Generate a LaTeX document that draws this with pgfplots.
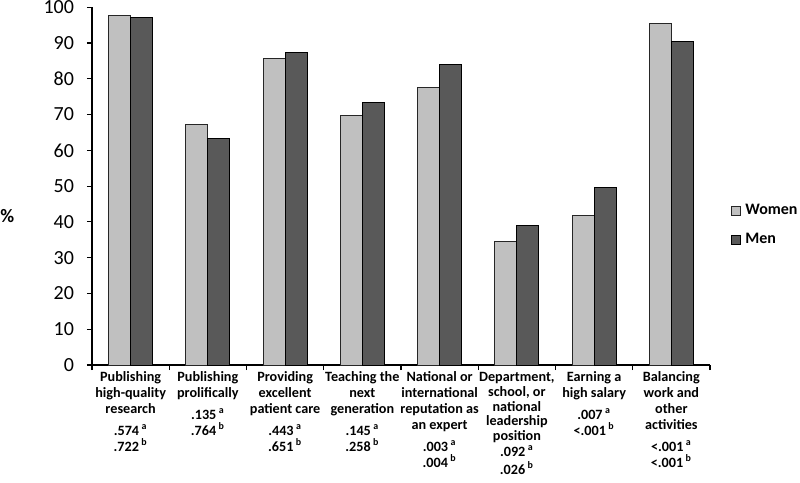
\documentclass[border=0pt]{standalone}
\usepackage{fontspec}
\setmainfont{Carlito}
\usepackage{pgfplots}
\pgfplotsset{compat=1.18}
\definecolor{women}{HTML}{C0C0C0}
\definecolor{men}{HTML}{595959}
\begin{document}
\begin{tikzpicture}
\path[use as bounding box] (-46pt,-59pt) rectangle (354pt,182.5pt);
\begin{axis}[
    scale only axis,
    width=309pt, height=178.9pt,
    xmin=-0.5, xmax=7.5,
    ymin=0, ymax=100,
    axis x line*=bottom,
    axis y line*=left,
    ytick={0,10,...,100},
    xtick={-0.5,0.5,...,7.5},
    x tick label as interval,
    xticklabels={
        {Publishing\\high-quality\\research\\[3pt].574\,\textsuperscript{a}\\.722\,\textsuperscript{b}},
        {Publishing\\prolifically\\[3pt].135\,\textsuperscript{a}\\.764\,\textsuperscript{b}},
        {Providing\\excellent\\patient care\\[3pt].443\,\textsuperscript{a}\\.651\,\textsuperscript{b}},
        {Teaching the\\next\\generation\\[3pt].145\,\textsuperscript{a}\\.258\,\textsuperscript{b}},
        {National or\\international\\reputation as\\an expert\\[3pt].003\,\textsuperscript{a}\\.004\,\textsuperscript{b}},
        {{\def\arraystretch{0.92}\begin{tabular}{@{}c@{}}Department,\\school, or\\national\\leadership\\position\\[0.5pt].092\,\textsuperscript{a}\\.026\,\textsuperscript{b}\end{tabular}}},
        {Earning a\\high salary\\[3pt].007\,\textsuperscript{a}\\<.001\,\textsuperscript{b}},
        {Balancing\\work and\\other\\activities\\[3pt]<.001\,\textsuperscript{a}\\<.001\,\textsuperscript{b}}
    },
    x tick label style={font=\bfseries\fontsize{7.1}{8}\selectfont, align=center, anchor=north, yshift=0.5pt, inner sep=1pt},
    y tick label style={font=\fontsize{10}{11}\selectfont, xshift=-3pt},
    /pgf/number format/assume math mode=true,
    tick align=outside,
    major tick length=2.5pt,
    tick style={black, line width=0.6pt},
    axis line style={black, line width=0.6pt},
    ylabel={\%},
    ylabel style={rotate=-90, at={(axis description cs:-0.137,0.415)}, anchor=center, font=\bfseries\fontsize{9.5}{10}\selectfont},
    ybar,
    bar width=0.285,
    legend style={at={(axis description cs:1.024,0.39)}, anchor=west, draw=none, fill=none,
        font=\bfseries\fontsize{8}{9}\selectfont, row sep=4pt},
    legend cell align=left,
    legend image code/.code={\draw[#1] (0pt,-2.3pt) rectangle (4.6pt,2.3pt);},
]
\addplot[fill=women, draw=black!85, line width=0.5pt, bar shift=-0.1425]
    coordinates {(0,97.6) (1,67.1) (2,85.8) (3,69.6) (4,77.5) (5,34.5) (6,41.9) (7,95.5)};
\addlegendentry{Women}
\addplot[fill=men, draw=black, line width=0.5pt, bar shift=0.1425]
    coordinates {(0,97.0) (1,63.2) (2,87.3) (3,73.3) (4,84.1) (5,39.0) (6,49.5) (7,90.5)};
\addlegendentry{Men}
\end{axis}
\end{tikzpicture}
\end{document}
